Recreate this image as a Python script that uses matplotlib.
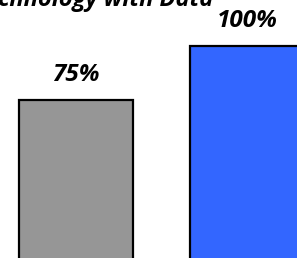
import matplotlib.pyplot as plt

categories = ["A", "B"]
values = [75, 100]
labels = ["75%", "100%"]
colors = ["#969696", "#3366ff"]
title = "Technology with Data"

plt.rcParams['font.family'] = ['Open Sans', 'DejaVu Sans']

fig = plt.figure(figsize=(2.97, 2.58), dpi=100)
ax = fig.add_axes([0, 0, 1, 1])

x = list(range(len(categories)))
ax.bar(x, values, width=0.667, color=colors, edgecolor="black", linewidth=1.6)

for xi, v, lab in zip(x, values, labels):
    ax.text(xi, v + 6, lab, ha="center", va="bottom", fontsize=17.5,
            fontweight="bold", fontstyle="italic")

ax.set_xlim(-0.444, 1.292)
ax.set_ylim(1.85, 121.3)
ax.axis("off")

fig.text(213 / 297, 1 - 6 / 258, title, ha="right", va="baseline",
         fontsize=17, fontweight="bold", fontstyle="italic")

fig.savefig("out.png", dpi=100)
